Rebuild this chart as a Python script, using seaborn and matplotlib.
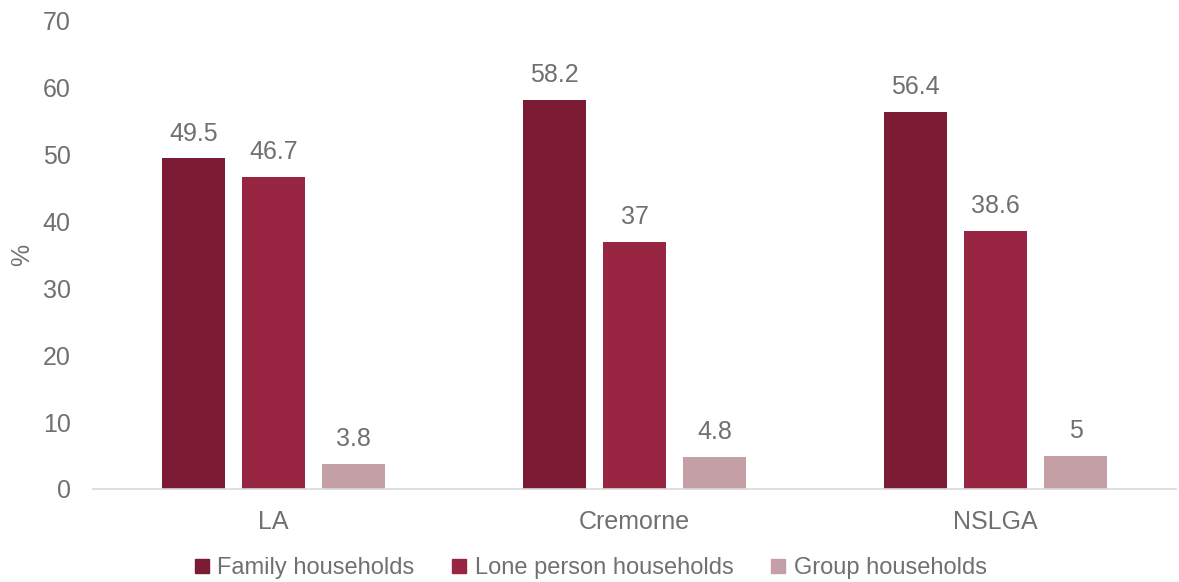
import matplotlib
matplotlib.use("Agg")
import matplotlib.pyplot as plt
import seaborn as sns
import pandas as pd
from matplotlib.lines import Line2D

categories = ["LA", "Cremorne", "NSLGA"]
series = ["Family households", "Lone person households", "Group households"]
family = [49.5, 58.2, 56.4]
lone = [46.7, 37, 38.6]
group = [3.8, 4.8, 5]
value_labels = {
    "Family households": ["49.5", "58.2", "56.4"],
    "Lone person households": ["46.7", "37", "38.6"],
    "Group households": ["3.8", "4.8", "5"],
}
colors = ["#7B1C34", "#982542", "#C4A0A6"]
yticks = [0, 10, 20, 30, 40, 50, 60, 70]

rows = []
for s, vals in zip(series, [family, lone, group]):
    for c, v in zip(categories, vals):
        rows.append({"Area": c, "Type": s, "Value": v})
df = pd.DataFrame(rows)

sns.set_theme(style="white")
plt.rcParams["font.family"] = ["Liberation Sans", "DejaVu Sans"]
text_color = "#707070"
fs = 18

fig = plt.figure(figsize=(11.79, 5.82), dpi=100)
ax = fig.add_axes([93 / 1179, 1 - 489 / 582, (1176 - 93) / 1179, (489 - 21) / 582])

sns.barplot(data=df, x="Area", y="Value", hue="Type", hue_order=series,
            order=categories, palette=colors, width=0.665, gap=0.2125,
            ax=ax, legend=False, saturation=1, edgecolor="none")

for cont, s in zip(ax.containers, series):
    ax.bar_label(cont, labels=value_labels[s], padding=9, fontsize=fs, color=text_color)

ax.set_ylim(0, 70)
ax.set_xlim(-0.5, 2.5)
ax.set_yticks(yticks)
ax.set_yticklabels([str(t) for t in yticks])
ax.tick_params(axis="both", labelsize=fs, colors=text_color, length=0)
ax.tick_params(axis="y", pad=16)
ax.tick_params(axis="x", pad=15)
ax.set_xlabel("")
ax.set_ylabel("%", fontsize=fs, color=text_color, labelpad=6)
for side in ["top", "right", "left"]:
    ax.spines[side].set_visible(False)
ax.spines["bottom"].set_color("#D9D9D9")
ax.spines["bottom"].set_linewidth(1.2)

handles = [Line2D([0], [0], marker="s", linestyle="none", markersize=10,
                  markerfacecolor=c, markeredgecolor=c) for c in colors]
fig.legend(handles, series, loc="center", bbox_to_anchor=(0.5, 1 - 568 / 582),
           ncol=3, frameon=False, fontsize=17, labelcolor=text_color,
           handletextpad=0.25, columnspacing=1.5, handlelength=0.8)

fig.savefig("out.png", dpi=100)
